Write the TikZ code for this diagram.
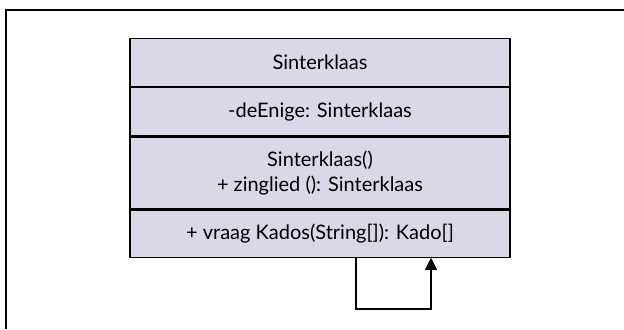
\documentclass[tikz,border=0pt]{standalone}
\usepackage{fontspec}
\setmainfont{Lato}
\usetikzlibrary{arrows.meta}
\definecolor{classfill}{HTML}{D9D8E7}
\tikzset{
  frameline/.style={line width=1.1pt, black},
  part/.style={draw=black, line width=0.9pt, fill=classfill, minimum width=285pt,
    inner sep=0pt, align=center, font=\fontsize{15}{18.5}\selectfont},
  loopline/.style={line width=0.9pt, -{Triangle[length=9pt,width=9pt]}}
}
\begin{document}
\begin{tikzpicture}[x=0.75pt,y=-0.75pt]
  \useasboundingbox (0,0) rectangle (624,329);
  % open outer frame
  \coordinate (fl) at (6,329);
  \coordinate (fc) at (6,10);
  \coordinate (fr) at (624,10);
  \draw[frameline] (fl) -- (fc) -- (fr);
  % class compartments
  \node[part, minimum height=36pt, anchor=north] (name) at (320,38) {Sinterklaas};
  \node[part, minimum height=36pt, anchor=north] (attr) at (name.south) {-deEnige: Sinterklaas};
  \node[part, minimum height=54pt, anchor=north] (ops) at (attr.south) {Sinterklaas()\\+ zinglied (): Sinterklaas};
  \node[part, minimum height=35.25pt, anchor=north] (more) at (ops.south) {+ vraag Kados(String[]): Kado[]};
  % self association
  \coordinate (a) at (356,309);
  \coordinate (b) at (431,309);
  \draw[loopline] (more.south -| a) -- (a) -- (b) -- (more.south -| b);
\end{tikzpicture}
\end{document}
